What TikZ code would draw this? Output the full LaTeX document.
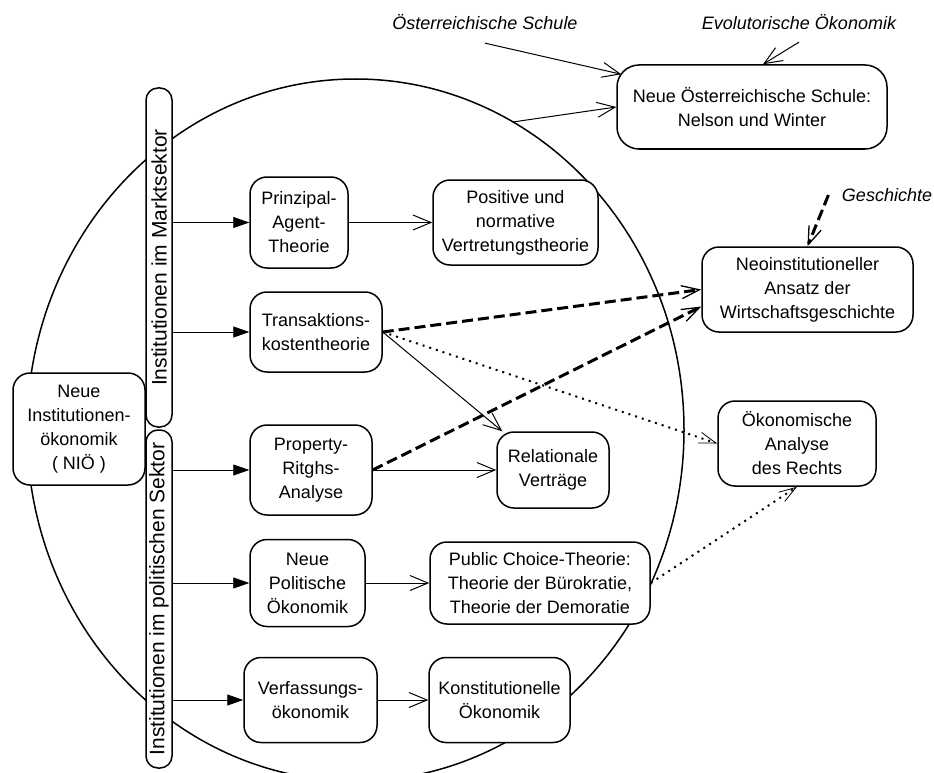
\documentclass[tikz,border=0pt]{standalone}
\usepackage{fontspec}
\setmainfont{Liberation Sans}
\usetikzlibrary{arrows.meta,calc}

\begin{document}
\begin{tikzpicture}[x=1pt,y=-1pt,
  font=\fontsize{18}{24}\selectfont,
  box/.style={draw,line width=1.5pt,rounded corners=17pt,fill=white,align=center,inner sep=1pt},
  bar/.style={draw,line width=1.5pt,rounded corners=12pt,fill=white,rotate=90,minimum height=26pt,inner sep=0pt,font=\fontsize{21}{24}\selectfont},
  fill arrow/.style={-{Triangle[length=16pt,width=11pt]},line width=0.8pt},
  open arrow/.style={-{Straight Barb[length=18pt,width=15pt]},line width=1pt},
  dash arrow/.style={-{Straight Barb[length=18pt,width=13pt,line width=1.3pt]},line width=3pt,dash pattern=on 11pt off 5pt},
  dot arrow/.style={-{Straight Barb[length=17pt,width=11pt,line width=0.8pt]},line width=2pt,dash pattern=on 2pt off 5pt}]
  \useasboundingbox (0,0) rectangle (934,773);
  \clip (0,0) rectangle (934,773);

  \coordinate (m) at (355.5,430);
  \draw[line width=1.5pt] (m) ellipse [x radius=328.5pt, y radius=351pt];
  \coordinate (k1) at ($(m)+(61.35:328.5pt and 351pt)$);

  \node[box,minimum width=132pt,minimum height=112pt] (nio) at (79,429) {Neue\\Institutionen-\\ökonomik\\( NIÖ )};
  \node[bar,minimum width=339pt] (markt) at (159,257.5) {Institutionen im Marktsektor};
  \node[bar,minimum width=338pt] (polit) at (159,599) {Institutionen im politischen Sektor};

  \node[box,minimum width=98pt,minimum height=91pt] (prinz) at (299,222.5) {Prinzipal-\\Agent-\\Theorie};
  \node[box,minimum width=165pt,minimum height=85pt] (posit) at (515.5,222.5) {Positive und\\normative\\Vertretungstheorie};
  \node[box,minimum width=132pt,minimum height=80pt] (trans) at (316,332) {Transaktions-\\kostentheorie};
  \node[box,minimum width=122pt,minimum height=90pt] (prop) at (311,470) {Property-\\Ritghs-\\Analyse};
  \node[box,minimum width=112pt,minimum height=76pt] (relat) at (553,470) {Relationale\\Verträge};
  \node[box,minimum width=115pt,minimum height=87pt] (npo) at (307.5,583) {Neue\\Politische\\Ökonomik};
  \node[box,minimum width=220pt,minimum height=82pt] (pct) at (540,583) {Public Choice-Theorie:\\Theorie der Bürokratie,\\Theorie der Demoratie};
  \node[box,minimum width=133pt,minimum height=85pt] (verf) at (310.5,700) {Verfassungs-\\ökonomik};
  \node[box,minimum width=141pt,minimum height=85pt] (konst) at (499.5,700) {Konstitutionelle\\Ökonomik};

  \node[box,minimum width=270pt,minimum height=84pt,rounded corners=22pt] (nos) at (752,107) {Neue Österreichische Schule:\\Nelson und Winter};
  \node[box,minimum width=211pt,minimum height=85pt] (neo) at (807.5,289.5) {Neoinstitutioneller\\Ansatz der\\Wirtschaftsgeschichte};
  \node[box,minimum width=158pt,minimum height=85pt] (oekr) at (797,443.5) {Ökonomische\\Analyse\\des Rechts};

  \node[font=\fontsize{18}{24}\selectfont\itshape] (oes) at (485,22) {Österreichische Schule};
  \node[font=\fontsize{18}{24}\selectfont\itshape] (evo) at (799,22) {Evolutorische Ökonomik};
  \node[font=\fontsize{18}{24}\selectfont\itshape] (gesch) at (887,195) {Geschichte};

  \draw[fill arrow] (prinz -| markt.south) -- (prinz);
  \draw[fill arrow] (trans -| markt.south) -- (trans);
  \draw[fill arrow] (prop -| polit.south) -- (prop);
  \draw[fill arrow] (npo -| polit.south) -- (npo);
  \draw[fill arrow] (verf -| polit.south) -- (verf);

  \draw[open arrow] (prinz) -- (posit);
  \draw[open arrow] (prop) -- (relat);
  \draw[open arrow] (npo) -- (pct);
  \draw[open arrow] (verf) -- (konst);
  \draw[open arrow] (trans.east) -- ([xshift=6pt]relat.north west);

  \draw[open arrow] ([yshift=-10pt]oes.south) -- ([shift={(5pt,-10pt)}]nos.north west);
  \draw[open arrow] ([yshift=-9pt]evo.south) -- ([xshift=11pt]nos.north);
  \draw[open arrow] (k1) -- (nos.west);

  \draw[dash arrow] (trans.east) -- (neo.west);
  \draw[dash arrow] (prop.east) -- ([yshift=-17pt]neo.west);
  \draw[dash arrow] ([xshift=-10pt]gesch.west) -- (neo.north);

  \draw[dot arrow] (trans.east) -- (oekr.west);
  \draw[dot arrow] (pct.east) -- (oekr.south);
\end{tikzpicture}
\end{document}
